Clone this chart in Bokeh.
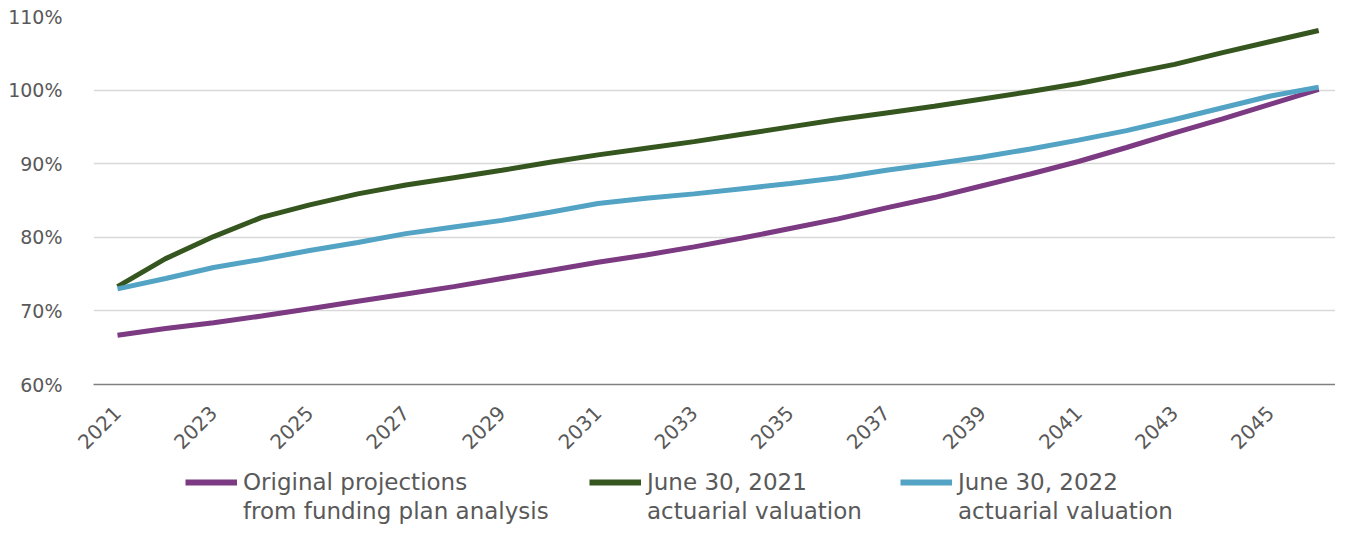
from bokeh.plotting import figure
from bokeh.layouts import column
from bokeh.models import Legend, LegendItem, FixedTicker, PrintfTickFormatter
from bokeh.embed import file_html
from bokeh.resources import INLINE
import math

years = list(range(2021, 2047))
original = [66.7, 67.6, 68.4, 69.3, 70.3, 71.3, 72.3, 73.3, 74.4, 75.5, 76.6, 77.6, 78.7,
            79.9, 81.2, 82.5, 84.0, 85.4, 87.0, 88.6, 90.3, 92.2, 94.2, 96.1, 98.1, 100.1]
val_2021 = [73.3, 77.1, 80.1, 82.7, 84.4, 85.9, 87.1, 88.1, 89.1, 90.2, 91.2, 92.1, 93.0,
            94.0, 95.0, 96.0, 96.9, 97.8, 98.8, 99.8, 100.9, 102.2, 103.5, 105.1, 106.6, 108.1]
val_2022 = [73.0, 74.4, 75.9, 77.0, 78.2, 79.3, 80.5, 81.4, 82.3, 83.4, 84.6, 85.3, 85.9,
            86.6, 87.3, 88.1, 89.1, 90.0, 90.9, 92.0, 93.2, 94.5, 96.0, 97.6, 99.2, 100.4]
series = [original, val_2021, val_2022]
label_line1 = ["Original projections", "June 30, 2021", "June 30, 2022"]
label_line2 = ["from funding plan analysis", "actuarial valuation", "actuarial valuation"]
colors = ["#7B3A82", "#36561F", "#52A3C4"]
x_ticks = list(range(2021, 2047, 2))
y_ticks = [60, 70, 80, 90, 100, 110]

FONT = "DejaVu Sans"
GRAY = "#595959"
W = 1335

p = figure(width=W, height=458, x_range=(2020.5, 2046.35), y_range=(60, 110),
           output_backend="svg", toolbar_location=None,
           min_border_left=93, min_border_right=0, min_border_top=16, min_border_bottom=72)
p.outline_line_color = None
p.background_fill_color = "white"

for ys, c in zip(series, colors):
    p.line(years, ys, line_color=c, line_width=5)

p.xgrid.visible = False
p.ygrid.grid_line_color = "#D9D9D9"
p.ygrid.grid_line_width = 1.5
p.ygrid.ticker = FixedTicker(ticks=y_ticks)

p.yaxis.ticker = FixedTicker(ticks=y_ticks)
p.yaxis.formatter = PrintfTickFormatter(format="%d%%")
p.yaxis.axis_line_color = None
p.yaxis.major_tick_line_color = None
p.yaxis.minor_tick_line_color = None
p.yaxis.major_label_standoff = 25
p.yaxis.major_label_text_font = FONT
p.yaxis.major_label_text_font_size = "19px"
p.yaxis.major_label_text_color = GRAY

p.xaxis.ticker = FixedTicker(ticks=x_ticks)
p.xaxis.axis_line_color = "#808080"
p.xaxis.axis_line_width = 1.5
p.xaxis.major_tick_line_color = None
p.xaxis.minor_tick_line_color = None
p.xaxis.major_label_orientation = math.pi / 4
p.xaxis.major_label_standoff = 19
p.xaxis.major_label_text_font = FONT
p.xaxis.major_label_text_font_size = "20px"
p.xaxis.major_label_text_color = GRAY

# legend panel below the chart (its lines lie outside its own view range)
lf = figure(width=W, height=68, x_range=(0, 1), y_range=(0, 1),
            output_backend="svg", toolbar_location=None,
            x_axis_type=None, y_axis_type=None,
            min_border_left=0, min_border_right=0, min_border_top=0, min_border_bottom=0)
lf.outline_line_color = None
lf.xgrid.visible = False
lf.ygrid.visible = False

glyph_x = [92, 496, 807]      # legend offsets (screen px from frame left)
common = dict(orientation="horizontal", padding=0, margin=0, border_line_alpha=0,
              background_fill_alpha=0, label_text_font=FONT, label_text_font_size="23px",
              label_text_color=GRAY)
for ys, c, t1, t2, gx in zip(series, colors, label_line1, label_line2, glyph_x):
    sw = lf.line(years, ys, line_color=c, line_width=6)
    ghost = lf.line(years, ys, line_alpha=0)
    lf.add_layout(Legend(items=[LegendItem(label=t1, renderers=[sw])], location=(gx, 31),
                         glyph_width=52, glyph_height=20, label_standoff=6, **common), "center")
    lf.add_layout(Legend(items=[LegendItem(label=t2, renderers=[ghost])], location=(gx + 58, 2),
                         glyph_width=0, glyph_height=20, label_standoff=0, **common), "center")

layout = column(p, lf, spacing=0)
open("out.html", "w").write(file_html(layout, INLINE))
